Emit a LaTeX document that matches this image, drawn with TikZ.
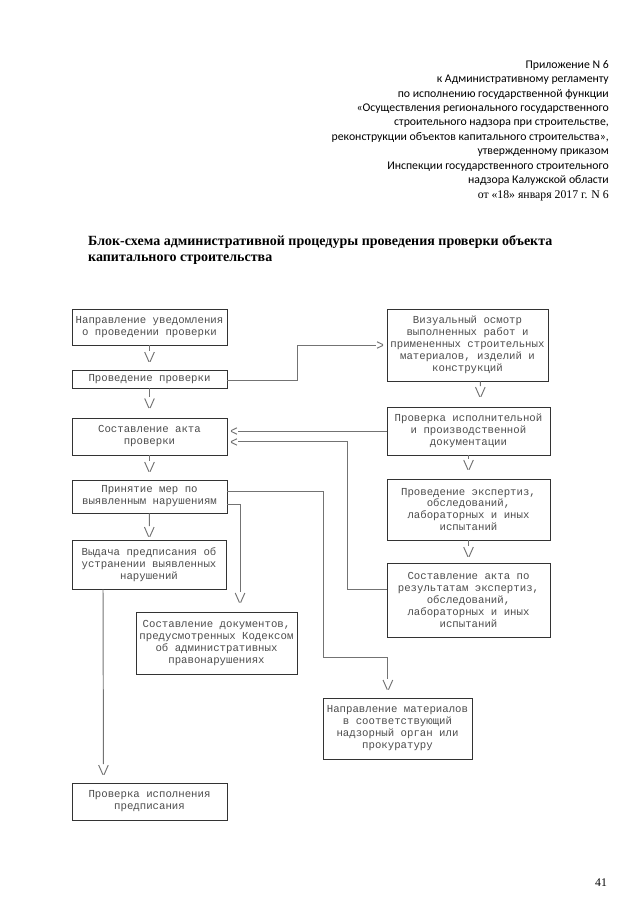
\documentclass[tikz,border=0pt]{standalone}
\usepackage{fontspec}
\setmainfont{Liberation Serif}
\setmonofont{Liberation Mono}
\newfontfamily\headfont{Carlito}
\usetikzlibrary{arrows.meta}

% tip that looks like the typed "\/" and ">" of the original
\pgfdeclarearrow{
  name = Glyph,
  defaults = {length = 9pt, width = 9pt},
  parameters = {\the\pgfarrowlength,\the\pgfarrowwidth},
  setup code = {
    \pgfarrowssettipend{0pt}
    \pgfarrowssetlineend{-1.1\pgfarrowlength}
    \pgfarrowssetbackend{-\pgfarrowlength}
    \pgfarrowshullpoint{0pt}{0pt}
    \pgfarrowshullpoint{-\pgfarrowlength}{.5\pgfarrowwidth}
    \pgfarrowshullpoint{-\pgfarrowlength}{-.5\pgfarrowwidth}
    \pgfarrowssavethe\pgfarrowlength
    \pgfarrowssavethe\pgfarrowwidth
  },
  drawing code = {
    \pgfpathmoveto{\pgfqpoint{-\pgfarrowlength}{.5\pgfarrowwidth}}
    \pgfpathlineto{\pgfqpoint{0pt}{.06\pgfarrowwidth}}
    \pgfpathmoveto{\pgfqpoint{-\pgfarrowlength}{-.5\pgfarrowwidth}}
    \pgfpathlineto{\pgfqpoint{0pt}{-.06\pgfarrowwidth}}
    \pgfusepathqstroke
  }
}

\tikzset{
  box/.style={rectangle, draw=black!80, line width=0.6pt, inner sep=0pt,
    align=center, text=black!70, font=\ttfamily\fontsize{10}{11.2}\selectfont},
  flow/.style={draw=black!55, line width=0.9pt, -{Glyph[length=9pt,width=9pt]}, shorten >=7.5pt},
  side/.style={draw=black!55, line width=0.9pt, -{Glyph[length=5.5pt,width=6pt]}, shorten >=3.5pt},
}

\begin{document}
\begin{tikzpicture}[x=0.3286mm, y=-0.3286mm]
  \useasboundingbox (0,0) rectangle (639,905);

  \node[anchor=north east, align=right, inner sep=0pt,
    font=\headfont\fontsize{11}{13.5}\selectfont] (head) at (609,60)
    {Приложение N 6\\
     к Административному регламенту\\
     по исполнению государственной функции\\
     «Осуществления регионального государственного\\
     строительного надзора при строительстве,\\
     реконструкции объектов капитального строительства»,\\
     утвержденному приказом\\
     Инспекции государственного строительного\\
     надзора Калужской области\\
     {\rmfamily\fontsize{11}{13.5}\selectfont от «18» января 2017 г. N 6}};

  \node[anchor=north west, align=left, inner sep=0pt,
    font=\bfseries\fontsize{13.1}{15.5}\selectfont] (title) at (88,235)
    {Блок-схема административной процедуры проведения проверки объекта\\
     капитального строительства};

  % left column
  \node[box, minimum width=145pt, minimum height=33.7pt] (notice) at (149.5,327) {Направление уведомления\\о проведении проверки};
  \node[box, minimum width=145pt, minimum height=16.8pt] (check) at (149.5,379) {Проведение проверки};
  \node[box, minimum width=145pt, minimum height=34.6pt] (act) at (149.5,436.5) {Составление акта\\проверки};
  \node[box, minimum width=145pt, minimum height=30.9pt] (measures) at (149.5,496.5) {Принятие мер по\\выявленным нарушениям};
  \node[box, minimum width=144pt, minimum height=45.8pt] (order) at (149,564.5) {Выдача предписания об\\устранении выявленных\\нарушений};
  \node[box, minimum width=145pt, minimum height=34.6pt] (control) at (149.5,801.5) {Проверка исполнения\\предписания};
  \node[box, minimum width=150.5pt, minimum height=58pt] (codex) at (216.5,643) {Составление документов,\\предусмотренных Кодексом\\об административных\\правонарушениях};
  \node[box, minimum width=139.3pt, minimum height=57pt] (send) at (397.5,728.5) {Направление материалов\\в соответствующий\\надзорный орган или\\прокуратуру};

  % right column
  \node[box, minimum width=150.5pt, minimum height=67.3pt] (visual) at (467.5,345) {Визуальный осмотр\\выполненных работ и\\примененных строительных\\материалов, изделий и\\конструкций};
  \node[box, minimum width=152.4pt, minimum height=44.9pt] (docs) at (468.5,431) {Проверка исполнительной\\и производственной\\документации};
  \node[box, minimum width=152.4pt, minimum height=57pt] (expert) at (468.5,509.5) {Проведение экспертиз,\\обследований,\\лабораторных и иных\\испытаний};
  \node[box, minimum width=152.4pt, minimum height=69.2pt] (expact) at (468.5,600) {Составление акта по\\результатам экспертиз,\\обследований,\\лабораторных и иных\\испытаний};

  \node[font=\fontsize{11}{13}\selectfont, inner sep=0pt] (page) at (601,883) {41};

  \draw[flow] (notice) -- (check);
  \draw[flow, shorten >=9pt] (check) -- (act);
  \draw[flow] (act) -- (measures);
  \draw[flow, shorten >=2.8pt] (measures) -- (order);
  \draw[flow] ([xshift=-43pt]order.south) -- ([xshift=-43pt]control.north);
  \draw[flow, shorten >=8.5pt] ([yshift=-7pt]measures.east) -| ([xshift=22pt]codex.north);
  \draw[flow] ([yshift=5.1pt]measures.east) -| (323,657) -| ([xshift=-9pt]send.north);

  \draw[side] ([yshift=-1.4pt]check.east) -- ++(70,0) |- (visual.west);
  \draw[flow, shorten >=9.3pt] ([xshift=12pt]visual.south) -- ([xshift=11pt]docs.north);
  \draw[flow, shorten >=8.5pt] (docs) -- (expert);
  \draw[flow, shorten >=5.6pt] (expert) -- (expact);
  \draw[side] (docs.west) -- (docs.west -| act.east);
  \draw[side] ([yshift=10.3pt]expact.west) -- ++(-39,0) |- ([yshift=-5.1pt]act.east);
\end{tikzpicture}
\end{document}
